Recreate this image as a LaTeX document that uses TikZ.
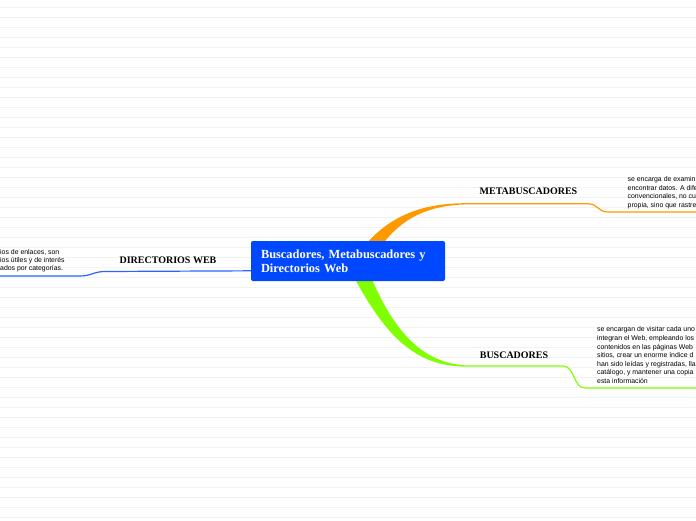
\documentclass[tikz,border=0pt]{standalone}
\usepackage{fontspec}
\setmainfont{Liberation Serif}
\newfontfamily\bodyfont{Liberation Sans}
\definecolor{nodeblue}{RGB}{0,72,255}
\definecolor{lineblue}{RGB}{40,100,255}
\definecolor{orangeb}{RGB}{255,153,0}
\definecolor{greenb}{RGB}{128,255,0}
\definecolor{gridline}{RGB}{242,242,242}
\begin{document}
\begin{tikzpicture}[x=1pt,y=-1pt,
  central/.style={fill=nodeblue, rounded corners=2pt, minimum width=194pt, minimum height=40pt,
    inner xsep=10pt, inner ysep=0pt, text width=174pt, align=left, text=white,
    font=\bfseries\fontsize{12.4}{14}\selectfont},
  branchlabel/.style={font=\bfseries\fontsize{10}{12}\selectfont, inner sep=0pt, anchor=base},
  body/.style={font=\bodyfont\fontsize{6.9}{8.6}\selectfont, inner sep=0pt, anchor=base west},
  thinline/.style={line width=1.2pt}]
\useasboundingbox (0,0) rectangle (696,520);
\clip (0,0) rectangle (696,520);
\fill[white] (0,0) rectangle (696,520);
\foreach \k in {0,...,51} \draw[gridline, line width=0.8pt] (0,{7.5+10*\k}) -- (696,{7.5+10*\k});

% coordinates of branches
\coordinate (mtip) at (466,203.8);
\coordinate (mbend) at (588,203.8);
\coordinate (mlow) at (608,212);
\coordinate (mend) at (696,212);
\coordinate (btip) at (466,366);
\coordinate (bbend) at (563,366);
\coordinate (blow) at (585,388);
\coordinate (bend) at (696,388);
\coordinate (dstart) at (252,270.8);
\coordinate (dbend) at (105,271.5);
\coordinate (dlow) at (80,276);
\coordinate (dend) at (0,276);

% orange branch (tapered)
\fill[orangeb] (365,245) .. controls (392,214) and (425,203.2) .. (466,203.2)
  -- (466,204.4) .. controls (428,205.5) and (402,218) .. (382,245) -- cycle;
\draw[orangeb, thinline] (mtip) -- (mbend) .. controls (598,203.8) and (598,212) .. (mlow) -- (mend);

% green branch (tapered)
\fill[greenb] (354,277) .. controls (385,335) and (415,366.6) .. (466,366.6)
  -- (466,365.4) .. controls (425,363) and (396,336) .. (371,277) -- cycle;
\draw[greenb, thinline] (btip) -- (bbend) .. controls (575,366) and (573,388) .. (blow) -- (bend);

% blue branch
\draw[lineblue, thinline] (dstart) -- (dbend) .. controls (94,271.5) and (91,276) .. (dlow) -- (dend);

% central node
\node[central] (c) at (348,261) {Buscadores, Metabuscadores y\\Directorios Web};

% labels
\node[branchlabel] (meta) at (528.5,194) {METABUSCADORES};
\node[branchlabel] (busc) at (514,358) {BUSCADORES};
\node[branchlabel] (dir) at (168,263) {DIRECTORIOS WEB};

% body texts
\foreach \t [count=\i] in {{se encarga de examin},{encontrar datos. A dife},{convencionales, no cu},{propia, sino que rastre}}
  \node[body] (mt\i) at (627.5,{181.7+8.5*(\i-1)}) {\t};
\foreach \t [count=\i] in {{se encargan de visitar cada uno},{integran el Web, empleando los},{contenidos en las páginas Web},{sitios, crear un enorme índice d},{han sido leídas y registradas, lla},{catálogo, y mantener una copia},{esta información}}
  \node[body] (bt\i) at (597,{331.7+8.65*(\i-1)}) {\t};
\foreach \t [count=\i] in {{ios de enlaces, son},{ios útiles y de interés},{ados por categorías.}}
  \node[body] (dt\i) at (0,{254+8*(\i-1)}) {\t};
\end{tikzpicture}
\end{document}
